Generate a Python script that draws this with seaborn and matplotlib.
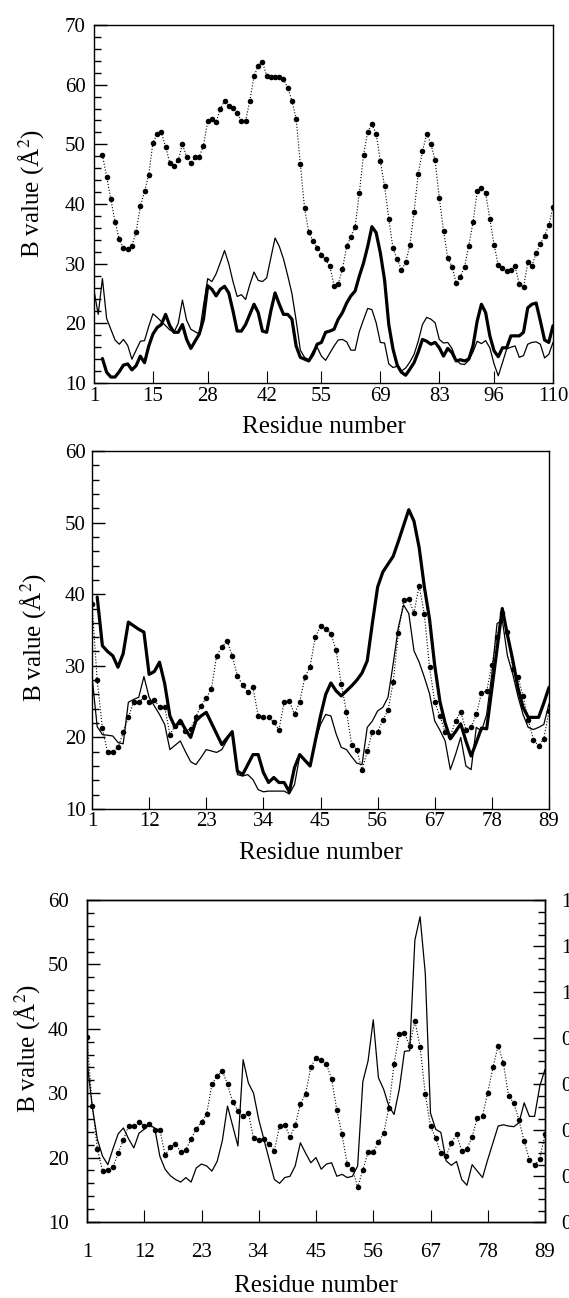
import numpy as np
import matplotlib
matplotlib.use("Agg")
import matplotlib.pyplot as plt
import seaborn as sns
from matplotlib.ticker import MultipleLocator, FormatStrFormatter

nan = np.nan

# ---- panel 1 (residues 1-110) ----
p1_dotted = [nan, nan,
             48.2, 44.6, 40.8, 37.0, 34.1, 32.6, 32.5, 33.0, 35.3, 39.6,
             42.1, 44.9, 50.3, 51.7, 52.0, 49.6, 46.9, 46.4, 47.4, 50.0,
             47.9, 46.9, 47.8, 47.9, 49.8, 53.9, 54.3, 53.7, 56.0, 57.3,
             56.4, 56.1, 55.3, 53.9, 53.9, 57.3, 61.4, 63.2, 63.8, 61.5,
             61.3, 61.3, 61.3, 60.9, 59.5, 57.3, 54.3, 46.7, 39.3, 35.3,
             33.8, 32.7, 31.5, 30.7, 29.6, 26.3, 26.6, 29.1, 32.9, 34.5,
             36.2, 41.8, 48.2, 52.1, 53.4, 51.8, 47.2, 43.0, 37.5, 32.6,
             30.8, 29.0, 30.2, 33.1, 38.6, 45.1, 48.8, 51.8, 50.1, 47.3,
             41.0, 35.5, 31.0, 29.5, 26.8, 27.8, 29.5, 33.0, 36.9, 42.1,
             42.6, 41.8, 37.5, 33.2, 29.7, 29.3, 28.7, 29.0, 29.6, 26.6,
             26.1, 30.2, 29.6, 31.8, 33.3, 34.7, 36.4, 39.5]
p1_thick = [nan, nan,
            14.1, 11.8, 11.0, 11.0, 11.9, 13.0, 13.2, 12.2, 12.9, 14.5,
            13.4, 16.2, 18.2, 19.3, 19.8, 21.5, 19.6, 18.5, 18.5, 19.8,
            17.3, 15.8, 17.0, 18.2, 20.7, 26.3, 25.7, 24.6, 25.7, 26.2,
            25.1, 22.1, 18.7, 18.7, 19.8, 21.5, 23.2, 21.8, 18.7, 18.5,
            22.1, 25.1, 23.2, 21.5, 21.5, 20.7, 16.2, 14.3, 14.0, 13.7,
            14.8, 16.5, 16.8, 18.5, 18.7, 19.0, 20.7, 21.8, 23.4, 24.6,
            25.4, 27.9, 30.1, 32.9, 36.2, 35.2, 31.8, 27.3, 19.8, 15.7,
            13.0, 11.8, 11.3, 12.3, 13.4, 15.2, 17.3, 17.0, 16.5, 16.8,
            15.9, 14.5, 15.8, 15.1, 13.7, 13.9, 13.7, 14.0, 16.2, 20.4,
            23.2, 21.8, 17.9, 15.4, 14.4, 15.9, 15.9, 17.9, 17.9, 17.9,
            18.5, 22.6, 23.2, 23.4, 20.4, 17.2, 16.8, 19.6]
p1_thin = [25.5, 21.5, 27.5, 20.8, 19.0, 17.2, 16.5, 17.3, 16.3, 14.0,
           15.5, 17.0, 17.1, 19.5, 21.6, 21.0, 20.3, 19.6, 18.9, 18.5,
           20.0, 23.9, 20.5, 19.0, 18.6, 18.2, 23.0, 27.5, 27.0, 28.3,
           30.2, 32.2, 30.0, 27.0, 24.5, 24.8, 24.0, 26.5, 28.6, 27.2,
           27.0, 27.6, 31.0, 34.3, 32.9, 30.8, 28.0, 25.0, 20.5, 15.5,
           14.3, 13.9, 15.3, 16.0, 14.5, 13.8, 15.0, 16.2, 17.2, 17.3,
           16.9, 15.5, 15.5, 18.6, 20.6, 22.5, 22.3, 20.1, 16.8, 16.7,
           13.2, 12.6, 12.8, 12.0, 12.5, 13.5, 14.8, 17.0, 19.8, 21.0,
           20.7, 20.1, 17.3, 16.7, 16.8, 15.8, 13.9, 13.2, 13.1, 13.8,
           15.2, 17.0, 16.6, 17.1, 15.9, 13.2, 11.2, 13.4, 15.7, 16.0,
           16.2, 14.3, 14.6, 16.5, 16.8, 16.9, 16.5, 14.2, 14.8, 16.8]

# ---- panels 2 and 3 (residues 1-89) ----
p23_dotted = [38.7, 28.0, 21.3, 17.9, 18.0, 18.6, 20.7, 22.8, 24.9, 24.9,
              25.6, 24.9, 25.2, 24.3, 24.3, 20.4, 21.6, 22.1, 20.9, 21.2,
              22.9, 24.4, 25.5, 26.8, 31.4, 32.6, 33.5, 31.4, 28.6, 27.3,
              26.4, 27.0, 23.0, 22.8, 22.9, 22.1, 21.1, 24.9, 25.1, 23.2,
              25.0, 28.4, 29.9, 34.0, 35.5, 35.2, 34.5, 32.2, 27.4, 23.6,
              19.0, 18.3, 15.4, 18.1, 20.8, 20.8, 22.4, 23.8, 27.7, 34.6,
              39.2, 39.3, 37.4, 41.2, 37.2, 29.8, 24.9, 23.0, 20.7, 20.2,
              22.3, 23.6, 21.1, 21.4, 23.2, 26.2, 26.5, 30.1, 34.0, 37.4,
              34.7, 29.6, 28.5, 25.8, 22.5, 19.7, 18.8, 19.8, 23.7]
p2_thick = [nan,
            39.6, 32.8, 32.0, 31.4, 29.8, 31.7, 36.1, 35.6, 35.1, 34.7,
            28.8, 29.2, 30.5, 27.5, 23.0, 21.4, 22.4, 21.1, 20.0, 22.3,
            23.0, 23.5, 22.0, 20.5, 19.0, 19.9, 20.8, 15.3, 14.8, 16.2,
            17.6, 17.6, 15.1, 13.7, 14.4, 13.7, 13.7, 12.4, 15.8, 17.6,
            16.8, 16.0, 19.5, 23.0, 26.0, 27.6, 26.5, 25.8, 26.5, 27.2,
            28.0, 29.0, 30.7, 36.0, 41.0, 43.1, 44.2, 45.3, 47.4, 49.6,
            51.8, 50.2, 46.5, 41.0, 36.5, 30.0, 25.0, 22.0, 19.8, 20.8,
            21.9, 19.5, 17.4, 19.3, 21.3, 21.2, 26.8, 32.4, 38.0, 34.3,
            30.9, 27.0, 24.2, 22.8, 22.8, 22.8, 24.8, 27.0]
p2_thin = [28.5, 21.5, 20.4, 20.3, 20.2, 19.3, 19.1, 24.9, 25.3, 25.6,
           28.5, 25.6, 24.4, 23.2, 21.8, 18.3, 18.9, 19.5, 18.0, 16.6,
           16.2, 17.2, 18.3, 18.1, 17.9, 18.3, 19.6, 20.9, 14.8, 14.6,
           14.8, 14.1, 12.7, 12.4, 12.5, 12.5, 12.5, 12.5, 12.1, 13.4,
           17.4, 16.8, 16.3, 19.5, 21.8, 23.2, 23.0, 20.5, 18.6, 18.3,
           17.3, 16.4, 16.2, 21.4, 22.3, 23.7, 24.2, 25.6, 30.3, 35.4,
           38.5, 37.3, 32.1, 30.5, 28.4, 26.1, 22.3, 21.0, 19.5, 15.5,
           17.6, 20.0, 16.0, 15.5, 21.4, 20.9, 23.2, 28.9, 35.9, 36.4,
           31.4, 28.9, 25.8, 23.2, 21.4, 21.1, 21.4, 21.8, 24.7]
p3_thin = [35.0, 28.0, 22.8, 20.2, 18.9, 21.4, 23.7, 24.6, 22.9, 21.5,
           23.8, 24.4, 25.1, 24.6, 20.2, 18.2, 17.2, 16.6, 16.2, 16.9,
           16.2, 18.4, 19.0, 18.7, 17.9, 19.4, 22.6, 28.0, 24.9, 21.8,
           35.2, 31.6, 30.0, 25.9, 22.8, 19.7, 16.6, 16.0, 16.9, 17.1,
           18.7, 22.3, 20.7, 19.2, 20.0, 18.2, 19.0, 19.2, 17.1, 17.4,
           16.9, 17.1, 18.7, 31.8, 35.0, 41.4, 32.4, 30.6, 28.0, 26.7,
           30.6, 36.5, 36.6, 53.8, 57.4, 48.6, 26.9, 24.4, 23.9, 19.5,
           18.8, 19.4, 16.6, 15.7, 18.9, 17.9, 16.9, 19.7, 22.3, 24.9,
           25.1, 24.9, 24.8, 25.4, 28.5, 26.4, 26.4, 31.1, 33.7]

res1 = np.arange(1, len(p1_thin) + 1)
res2 = np.arange(1, len(p23_dotted) + 1)
xticks1 = [1, 15, 28, 42, 55, 69, 83, 96, 110]
xticks2 = [1, 12, 23, 34, 45, 56, 67, 78, 89]

sns.set_style("ticks", {"axes.edgecolor": "black", "xtick.color": "black",
                        "ytick.color": "black", "text.color": "black",
                        "axes.labelcolor": "black"})
plt.rcParams["font.family"] = ["Liberation Serif", "DejaVu Serif"]
plt.rcParams["mathtext.fontset"] = "stix"

W, H = 569, 1298
fig = plt.figure(figsize=(W / 100, H / 100), dpi=100)


def box(left, right, top, bottom):
    return [left / W, 1 - bottom / H, (right - left) / W, (bottom - top) / H]


ax1 = fig.add_axes(box(94, 553, 25, 383))
ax2 = fig.add_axes(box(92, 549, 451, 809))
ax3 = fig.add_axes(box(87, 545, 900, 1222))

dot_kw = dict(color="black", linestyle=":", linewidth=0.8, marker="o",
              markersize=4, markeredgewidth=0, markeredgecolor="black")
thick_kw = dict(color="black", linewidth=2.3)
thin_kw = dict(color="black", linewidth=0.9)

sns.lineplot(x=res1, y=p1_dotted, ax=ax1, **dot_kw)
sns.lineplot(x=res1, y=p1_thin, ax=ax1, **thin_kw)
sns.lineplot(x=res1, y=p1_thick, ax=ax1, **thick_kw)

sns.lineplot(x=res2, y=p23_dotted, ax=ax2, **dot_kw)
sns.lineplot(x=res2, y=p2_thin, ax=ax2, **thin_kw)
sns.lineplot(x=res2, y=p2_thick, ax=ax2, **thick_kw)

sns.lineplot(x=res2, y=p23_dotted, ax=ax3, **dot_kw)
sns.lineplot(x=res2, y=p3_thin, ax=ax3, **thin_kw)


def style(ax, xmax, xticks, ymax, xpad, ypad, xlab_y, ylab_x, ylab_y):
    ax.set_xlim(1, xmax)
    ax.set_ylim(10, ymax)
    ax.set_xticks(xticks)
    ax.yaxis.set_major_locator(MultipleLocator(10))
    ax.yaxis.set_minor_locator(MultipleLocator(2))
    ax.tick_params(axis="both", which="both", direction="in", top=False, right=False)
    ax.tick_params(axis="y", which="major", length=9, width=1, labelsize=15, pad=ypad)
    ax.tick_params(axis="y", which="minor", length=5, width=1)
    ax.tick_params(axis="x", which="major", length=9, width=0.8, labelsize=15, pad=xpad)
    ax.tick_params(axis="x", which="minor", bottom=False)
    for s in ax.spines.values():
        s.set_linewidth(1.0)
    ax.set_xlabel("Residue number", fontsize=18)
    ax.set_ylabel("B value (Å$^2$)", fontsize=18)
    ax.xaxis.set_label_coords(0.5, xlab_y)
    ax.xaxis.label.set_va("center")
    ax.yaxis.set_label_coords(ylab_x, ylab_y)
    ax.yaxis.label.set_va("center")


style(ax1, 110, xticks1, 70, 3, 6, (383 - 427) / 358, -0.137, 0.53)
style(ax2, 89, xticks2, 60, 2, 4.5, (809 - 853) / 358, -0.13, 0.48)
style(ax3, 89, xticks2, 60, 15, 13, (1222 - 1286) / 322, -0.13, 0.54)

# right-hand scale of the bottom panel (cut off by the page edge)
ax3r = ax3.twinx()
ax3r.set_ylim(0, 1.4)
ax3r.yaxis.set_major_locator(MultipleLocator(0.2))
ax3r.yaxis.set_minor_locator(MultipleLocator(0.05))
ax3r.yaxis.set_major_formatter(FormatStrFormatter("%.1f"))
ax3r.tick_params(axis="y", which="both", direction="in")
ax3r.tick_params(axis="y", which="major", length=9, width=1, labelsize=15, pad=12)
ax3r.tick_params(axis="y", which="minor", length=5, width=1)
for s in ax3r.spines.values():
    s.set_linewidth(1.0)

fig.savefig("out.png", dpi=100)
